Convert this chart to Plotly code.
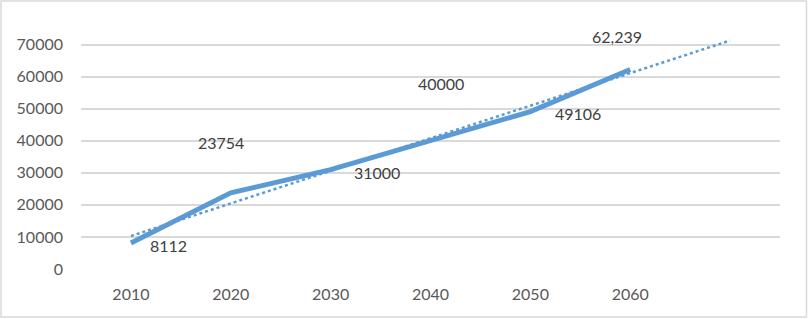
import numpy as np
import plotly.graph_objects as go

years = [2010, 2020, 2030, 2040, 2050, 2060]
values = [8112, 23754, 31000, 40000, 49106, 62239]
label_texts = ["8112", "23754", "31000", "40000", "49106", "62,239"]
y_ticks = [0, 10000, 20000, 30000, 40000, 50000, 60000, 70000]
trend_end_year = 2070

# label offsets in pixels (style)
label_shifts = [(38, -2), (-10, 50), (46, -3), (10, 57), (48, -2), (-13, 33)]

W, H = 808, 319
ML, MR, MT, MB = 81, 28, 35, 50

blue = "#5B9BD5"

# linear trendline fitted over category index (like Excel)
idx = np.arange(1, len(values) + 1)
slope, intercept = np.polyfit(idx, values, 1)
trend_x = [years[0], trend_end_year]
trend_idx = [1, 1 + (trend_end_year - years[0]) / 10]
trend_y = [intercept + slope * i for i in trend_idx]

fig = go.Figure()
fig.add_trace(go.Scatter(x=trend_x, y=trend_y, mode="lines",
                         line=dict(color=blue, width=2.5, dash="dot"),
                         hoverinfo="skip", showlegend=False))
fig.add_trace(go.Scatter(x=years, y=values, mode="lines",
                         line=dict(color=blue, width=5),
                         showlegend=False))

for xv, yv, t, (dx, dy) in zip(years, values, label_texts, label_shifts):
    fig.add_annotation(x=xv, y=yv, text=t, showarrow=False,
                       xshift=dx, yshift=dy,
                       font=dict(family="Lato", size=16, color="#404040"))

# chart border
pw = W - ML - MR
ph = H - MT - MB
fig.add_shape(type="rect", xref="paper", yref="paper",
              x0=(1 - ML) / pw, x1=(W - 1.5 - ML) / pw,
              y0=-(MB - 2) / ph,
              y1=1 + (MT - 1) / ph,
              line=dict(color="#D9D9D9", width=1.5), layer="below")

fig.update_layout(
    width=W, height=H,
    margin=dict(l=ML, r=MR, t=MT, b=MB),
    paper_bgcolor="white", plot_bgcolor="white",
    font=dict(family="Lato", size=16, color="#595959"),
    xaxis=dict(range=[2005, 2075], tickvals=years, ticktext=[str(y) for y in years],
               showgrid=False, zeroline=False, showline=False, ticks="",
               ticklabelstandoff=14),
    yaxis=dict(range=[0, 73000], tickvals=y_ticks, ticktext=[str(v) for v in y_ticks],
               showgrid=True, gridcolor="#D9D9D9", gridwidth=1.5,
               zeroline=False, showline=False, ticks="",
               ticklabelstandoff=17),
)

fig.write_html("out.html", config={"displayModeBar": False})

# remove default page margin so the figure sits at the window origin
with open("out.html", "r", encoding="utf-8") as f:
    html = f.read()
html = html.replace("<head>", "<head><style>html,body{margin:0;padding:0;overflow:hidden;}</style>", 1)
with open("out.html", "w", encoding="utf-8") as f:
    f.write(html)
